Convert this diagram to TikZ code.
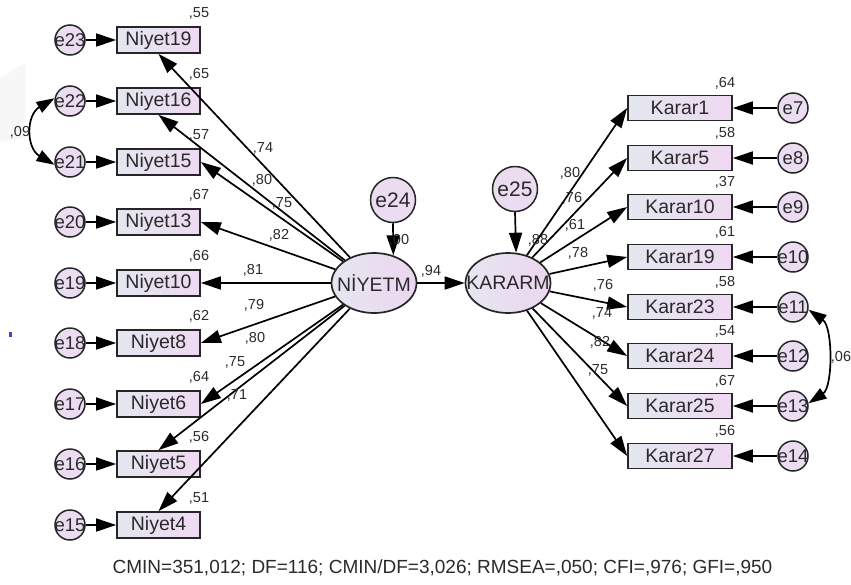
\documentclass[tikz,border=0pt]{standalone}
\usepackage{fontspec}
\setmainfont{Liberation Sans}
\usetikzlibrary{shapes.geometric,arrows.meta}

\definecolor{boxL}{HTML}{E3E7EF}
\definecolor{boxR}{HTML}{EFD9F2}
\definecolor{errfill}{HTML}{EBDCF2}
\definecolor{latL}{HTML}{E6E6F0}
\definecolor{latR}{HTML}{ECD6F0}
\definecolor{edge}{HTML}{262626}
\definecolor{ink}{HTML}{2A2A2A}

\tikzset{
  obs/.style={rectangle, draw=edge, line width=1.7pt, left color=boxL, right color=boxR,
    inner sep=0pt, text=ink, font=\fontsize{19.5}{20}\selectfont},
  obsL/.style={obs, minimum width=83pt, minimum height=26pt},
  obsR/.style={obs, minimum width=104pt, minimum height=25pt},
  err/.style={circle, draw=edge, line width=1.5pt, fill=errfill, minimum size=30pt, inner sep=0pt,
    label={[text=ink, font=\fontsize{18.5}{18}\selectfont, inner sep=0pt]center:#1}},
  errbig/.style={circle, draw=edge, line width=1.5pt, fill=errfill, minimum size=45pt, inner sep=0pt,
    label={[text=ink, font=\fontsize{21}{21}\selectfont, inner sep=0pt]center:#1}},
  lat/.style={ellipse, draw=edge, line width=1.7pt, left color=latL, right color=latR,
    minimum width=85pt, minimum height=60pt, inner sep=0pt,
    label={[text=ink, font=\fontsize{19.5}{20}\selectfont, inner sep=0pt]center:#1}},
  arr/.style={-{Triangle[length=20pt,width=13pt]}, line width=1.7pt, black},
  cov/.style={{Triangle[length=18pt,width=12pt]}-{Triangle[length=18pt,width=12pt]}, line width=1.7pt, black},
  val/.style={text=ink, inner sep=0pt, font=\fontsize{14.5}{14}\selectfont},
}

\begin{document}
\begin{tikzpicture}[x=1pt,y=-1pt]
\useasboundingbox (0,0) rectangle (851,584);

% faint mark on the left margin and a small blue dot
\fill[gray!6] (0,78) -- (25,63) -- (25,138) -- (0,142) -- cycle;
\fill[blue!45!gray] (9,332) rectangle (12,337);

% ---- latent variables and their disturbances
\node[lat=NİYETM] (niyetm) at (374,283) {};
\node[lat=KARARM] (kararm) at (508,283) {};
\node[errbig=e24] (e24) at (393,200) {};
\node[errbig=e25] (e25) at (515,189) {};

% ---- indicators of NIYETM
\foreach \nm/\txt/\yy in {n19/Niyet19/40, n16/Niyet16/101, n15/Niyet15/162, n13/Niyet13/222,
    n10/Niyet10/283, n8/Niyet8/343, n6/Niyet6/404, n5/Niyet5/464, n4/Niyet4/525}
  \node[obsL] (\nm) at (158.5,\yy) {\txt};

\foreach \nm/\txt/\yy in {e23/e23/40, e22/e22/101, e21/e21/162, e20/e20/222,
    e19/e19/283, e18/e18/343, e17/e17/404, e16/e16/464, e15/e15/525}
  \node[err=\txt] (\nm) at (70,\yy) {};

% ---- indicators of KARARM
\foreach \nm/\txt/\yy in {k1/Karar1/108, k5/Karar5/158, k10/Karar10/207, k19/Karar19/257,
    k23/Karar23/307, k24/Karar24/356, k25/Karar25/406, k27/Karar27/456}
  \node[obsR] (\nm) at (680,\yy) {\txt};

\foreach \nm/\txt/\yy in {e7/e7/108, e8/e8/158, e9/e9/207, e10/e10/257,
    e11/e11/307, e12/e12/356, e13/e13/406, e14/e14/456}
  \node[err=\txt] (\nm) at (793,\yy) {};

% ---- error arrows
\foreach \e/\n in {e23/n19, e22/n16, e21/n15, e20/n13, e19/n10, e18/n8, e17/n6, e16/n5, e15/n4}
  \draw[arr] (\e) -- (\n);
\foreach \e/\n in {e7/k1, e8/k5, e9/k10, e10/k19, e11/k23, e12/k24, e13/k25, e14/k27}
  \draw[arr] (\e) -- (\n);

% ---- loadings
\draw[arr] (niyetm) -- (n19.south);
\draw[arr] (niyetm) -- (n16.south);
\draw[arr] (niyetm) -- (n15.east);
\draw[arr] (niyetm) -- (n13.east);
\draw[arr] (niyetm) -- (n10.east);
\draw[arr] (niyetm) -- (n8.east);
\draw[arr] (niyetm) -- (n6.east);
\draw[arr] (niyetm) -- (n5.north);
\draw[arr] (niyetm) -- (n4.north);

\foreach \k in {k1,k5,k10,k19,k23,k24,k25,k27}
  \draw[arr] (kararm) -- (\k.west);

% ---- structural paths
\draw[arr] (e24.south) -- (niyetm.55);
\draw[arr] (e25.south) -- (kararm.75);
\draw[arr] (niyetm) -- (kararm);

% ---- covariances between errors
\draw[cov] (e22.170) .. controls (26,115) and (26,148) .. (e21.190);
\draw[cov] (e11.-10) .. controls (833,327) and (833,387) .. (e13.10);

% ---- squared multiple correlations
\foreach \v/\yy in {55/40, 65/101, 57/162, 67/222, 66/283, 62/343, 64/404, 56/464, 51/525}
  \node[val] at (199,\yy-27) {,\v};
\foreach \v/\yy in {64/108, 58/158, 37/207, 61/257, 58/307, 54/356, 67/406, 56/456}
  \node[val] at (725,\yy-25) {,\v};

% ---- standardized estimates on paths
\node[val] at (263,148) {,74};
\node[val] at (262,180) {,80};
\node[val] at (282,203) {,75};
\node[val] at (279,235) {,82};
\node[val] at (253,270) {,81};
\node[val] at (254,305) {,79};
\node[val] at (255,338) {,80};
\node[val] at (235,362) {,75};
\node[val] at (237,395) {,71};

\node[val] at (570,173) {,80};
\node[val] at (572,198) {,76};
\node[val] at (575,225) {,61};
\node[val] at (578,253) {,78};
\node[val] at (603,285) {,76};
\node[val] at (602,313) {,74};
\node[val] at (600,342) {,82};
\node[val] at (598,370) {,75};

\node[val] at (431,271) {,94};
\node[val] at (399,240) {,00};
\node[val] at (538,240) {,88};

\node[val] at (20,132) {,09};
\node[val] at (841,357) {,06};

% ---- fit indices
\node[text=ink, inner sep=0pt, anchor=base, font=\fontsize{19}{19}\selectfont] (fit) at (442.5,573)
  {CMIN=351,012; DF=116; CMIN/DF=3,026; RMSEA=,050; CFI=,976; GFI=,950};
\end{tikzpicture}
\end{document}
